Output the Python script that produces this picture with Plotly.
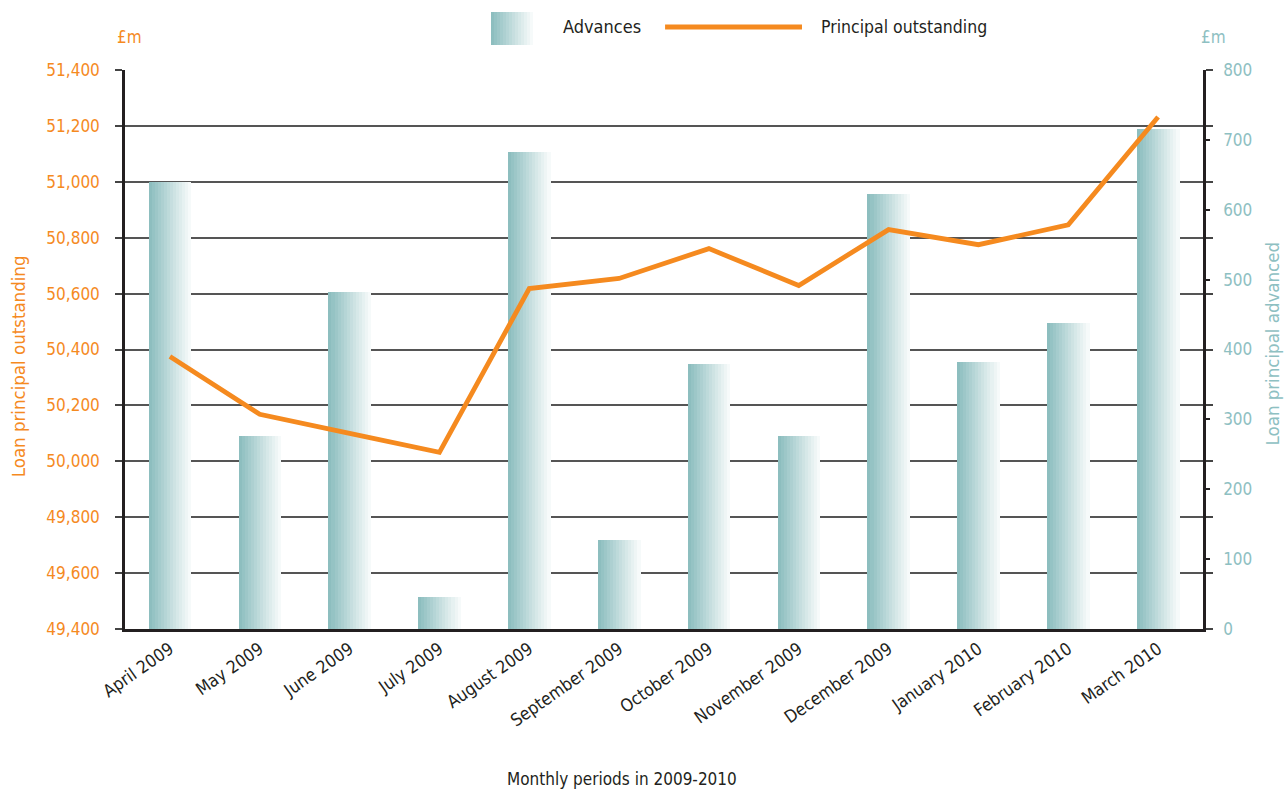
import plotly.graph_objects as go

months = ['April 2009', 'May 2009', 'June 2009', 'July 2009', 'August 2009',
          'September 2009', 'October 2009', 'November 2009', 'December 2009',
          'January 2010', 'February 2010', 'March 2010']

advances = [640, 276, 482, 46, 682, 127, 379, 276, 622, 382, 438, 715]
principal = [50375, 50168, 50100, 50032, 50618, 50654, 50761, 50629,
             50829, 50775, 50846, 51232]

left_ticks = [49400, 49600, 49800, 50000, 50200, 50400, 50600, 50800, 51000, 51200, 51400]
right_ticks = [0, 100, 200, 300, 400, 500, 600, 700, 800]

ORANGE = '#F58A1F'
TEAL_TXT = '#8EC0C2'
DARK = '#231F20'
FONT = 'Liberation Sans Narrow, DejaVu Sans Condensed, Arial Narrow, sans-serif'


def mix(c1, c2, t):
  return 'rgb({},{},{})'.format(*[round(a + (b - a) * t) for a, b in zip(c1, c2)])

left_col = (141, 190, 191)
right_col = (246, 250, 250)

fig = go.Figure()

# gradient bars built from thin strips (base subplot, right-hand axis)
n_strips = 14
bar_w = 0.47
strip_w = bar_w / n_strips
for i in range(n_strips):
  fig.add_trace(go.Bar(
      x=months, y=advances, yaxis='y',
      width=strip_w * 1.15, offset=-bar_w / 2 + i * strip_w,
      marker=dict(color=mix(left_col, right_col, i / (n_strips - 1)), line_width=0),
      showlegend=False, hoverinfo='skip' if i else 'x+y', name='Advances'))

# line in the overlay subplot so it (and its grid) sits above the bars
fig.add_trace(go.Scatter(
    x=months, y=principal, yaxis='y2', mode='lines', name='Principal outstanding',
    line=dict(color=ORANGE, width=4.8), showlegend=False))

shapes = []
# legend gradient square
sq_x0, sq_x1 = 0.3395, 0.3785
for i in range(n_strips):
  a = sq_x0 + (sq_x1 - sq_x0) * i / n_strips
  b = sq_x0 + (sq_x1 - sq_x0) * (i + 1.1) / n_strips
  shapes.append(dict(type='rect', xref='paper', yref='paper', x0=a, x1=min(b, sq_x1),
                     y0=1.0447, y1=1.1038, line_width=0,
                     fillcolor=mix(left_col, right_col, i / (n_strips - 1))))
shapes.append(dict(type='line', xref='paper', yref='paper', x0=0.501, x1=0.628,
                   y0=1.077, y1=1.077, line=dict(color=ORANGE, width=5)))

annotations = [
    dict(text='Advances', x=0.4045, y=1.077, xanchor='left', yanchor='middle',
         font=dict(size=18, color=DARK)),
    dict(text='Principal outstanding', x=0.6438, y=1.077, xanchor='left', yanchor='middle',
         font=dict(size=17.5, color=DARK)),
    dict(text='£m', x=-0.0093, y=1.059, xanchor='left', yanchor='middle',
         font=dict(size=17, color=ORANGE)),
    dict(text='£m', x=0.9963, y=1.059, xanchor='left', yanchor='middle',
         font=dict(size=17, color=TEAL_TXT)),
    dict(text='Loan principal outstanding', x=-0.0993, y=0.470, textangle=-90,
         xanchor='center', yanchor='middle', font=dict(size=18.5, color=ORANGE)),
    dict(text='Loan principal advanced', x=1.0645, y=0.51, textangle=-90,
         xanchor='center', yanchor='middle', font=dict(size=18.5, color=TEAL_TXT)),
    dict(text='Monthly periods in 2009-2010', x=0.461, y=-0.268,
         xanchor='center', yanchor='middle', font=dict(size=17, color=DARK)),
]
for a in annotations:
  a.update(xref='paper', yref='paper', showarrow=False)

fig.update_layout(
    width=1284, height=789,
    margin=dict(l=125, r=81, t=70, b=160),
    paper_bgcolor='white', plot_bgcolor='white',
    font=dict(family=FONT, color=DARK),
    barmode='overlay', bargap=0,
    shapes=shapes, annotations=annotations,
    xaxis=dict(type='category', tickangle=-35, showgrid=False,
               showline=True, linewidth=3, linecolor=DARK, ticks='',
               tickfont=dict(size=17.5, color=DARK), range=[-0.5, 11.5]),
    yaxis=dict(range=[0, 800], tickvals=right_ticks, side='right',
               showgrid=False, showline=True, linewidth=2.5, linecolor=DARK,
               ticks='outside', ticklen=4, tickwidth=1.5, tickcolor=DARK,
               ticklabelstandoff=10,
               tickfont=dict(size=17, color=TEAL_TXT), zeroline=False),
    yaxis2=dict(range=[49400, 51400], tickvals=left_ticks, tickformat=',d',
                overlaying='y', side='left',
                showgrid=True, gridcolor='#555555', gridwidth=1.5,
                showline=True, linewidth=2.5, linecolor=DARK, mirror='ticks',
                ticks='outside', ticklen=7, tickwidth=1.5, tickcolor='#444444',
                ticklabelstandoff=12,
                tickfont=dict(size=17, color=ORANGE), zeroline=False),
)

# drop the default page margin so the figure fills the window
fig.write_html('out.html', config={'displayModeBar': False},
               post_script="document.body.style.margin='0px';")
